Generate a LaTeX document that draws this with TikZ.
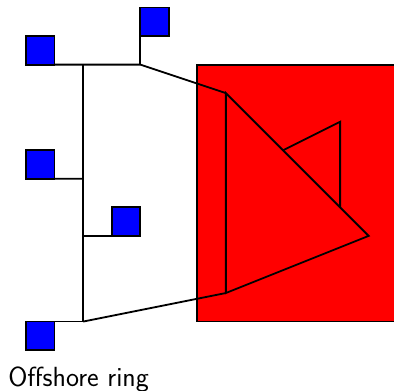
\documentclass[tikz,border=0pt]{standalone}
\usepackage{tikz}
\usetikzlibrary{positioning}
\tikzset{
  turbine/.style={draw=black, fill=blue, line width=1.8pt, minimum size=1cm, inner sep=0pt, outer sep=0pt},
  cable/.style={line width=1.8pt},
}
\begin{document}
\begin{tikzpicture}[y=-1cm]
\useasboundingbox (0.088,-0.263) rectangle (13.888,13.397);

% Plataforma
\draw[fill=red, line width=1.8pt] (7,2) rectangle (14,11);
\coordinate (p1) at (8,3);
\coordinate (p2) at (13,8);
\coordinate (p3) at (8,10);
\draw[cable] (p1) -- (p2) -- (p3) -- cycle;
\draw[cable] (10,5) -- (12,4) -- (12,7);

% Turbinas
\node[turbine, anchor=north west] (t1) at (1,1) {};
\node[turbine, anchor=north west] (t2) at (5,0) {};
\node[turbine, anchor=north west] (t3) at (1,5) {};
\node[turbine, anchor=north west] (t4) at (4,7) {};
\node[turbine, anchor=north west] (t5) at (1,11) {};

% Anel
\coordinate (j1) at (3,2);
\coordinate (j2) at (3,6);
\coordinate (j3) at (3,8);
\coordinate (j4) at (3,11);
\coordinate (k) at (5,2);
\draw[cable] (t1.south east) -- (j1) -- (k);
\draw[cable] (t2.south west) -- (k);
\draw[cable] (j1) -- (j4);
\draw[cable] (t3.south east) -- (j2);
\draw[cable] (j3) -- (t4.south west);
\draw[cable] (t5.north east) -- (j4);
\draw[cable] (k) -- (p1);
\draw[cable] (j4) -- (p3);

\node[anchor=base west, inner sep=0pt, font=\fontsize{27.6}{33}\selectfont\sffamily] (lbl) at (0.37,13.26) {Offshore ring};
\end{tikzpicture}
\end{document}
